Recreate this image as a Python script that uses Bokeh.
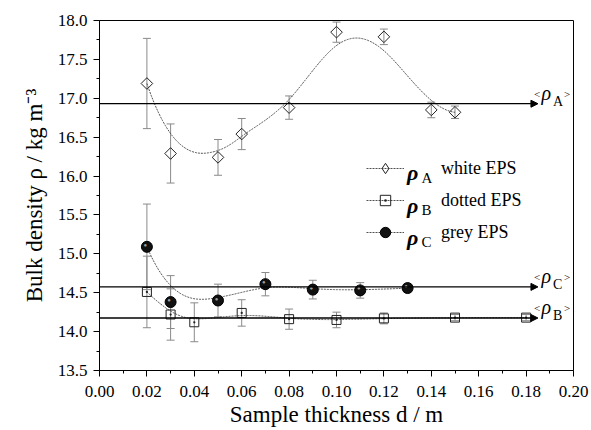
import numpy as np
from bokeh.plotting import figure
from bokeh.models import (ColumnDataSource, Whisker, TeeHead, Arrow, NormalHead, Label,
                          Legend, LegendItem, FixedTicker, NumeralTickFormatter, Range1d)
from bokeh.core.properties import value
from bokeh.embed import file_html
from bokeh.resources import INLINE

# ---------------- data ----------------
thick_A = [0.02, 0.03, 0.05, 0.06, 0.08, 0.10, 0.12, 0.14, 0.15]
rho_A = [17.19, 16.29, 16.24, 16.54, 16.88, 17.85, 17.79, 16.85, 16.82]
err_A = [0.58, 0.38, 0.23, 0.20, 0.15, 0.13, 0.10, 0.10, 0.08]

thick_B = [0.02, 0.03, 0.04, 0.06, 0.08, 0.10, 0.12, 0.15, 0.18]
rho_B = [14.51, 14.22, 14.12, 14.24, 14.16, 14.15, 14.17, 14.18, 14.18]
err_B = [0.46, 0.33, 0.25, 0.17, 0.13, 0.10, 0.07, 0.04, 0.04]

thick_C = [0.02, 0.03, 0.05, 0.07, 0.09, 0.11, 0.13]
rho_C = [15.09, 14.38, 14.40, 14.61, 14.54, 14.53, 14.56]
err_C = [0.55, 0.34, 0.21, 0.15, 0.12, 0.10, 0.05]

mean_names = ["A", "B", "C"]
mean_values = [16.93, 14.175, 14.575]
mean_end = 0.185

legend_texts = ["white EPS", "dotted EPS", "grey EPS"]
x_title = "Sample thickness d / m"
y_title = "Bulk density ρ / kg m⁻³"
x_ticks = [0.00, 0.02, 0.04, 0.06, 0.08, 0.10, 0.12, 0.14, 0.16, 0.18, 0.20]
x_minor = [0.01, 0.03, 0.05, 0.07, 0.09, 0.11, 0.13, 0.15, 0.17, 0.19]
y_ticks = [13.5, 14.0, 14.5, 15.0, 15.5, 16.0, 16.5, 17.0, 17.5, 18.0]
y_minor = [13.75, 14.25, 14.75, 15.25, 15.75, 16.25, 16.75, 17.25, 17.75]

# ---------------- helpers ----------------
def _basis(i, k, t, kn):
    if k == 0:
        return np.where((kn[i] <= t) & (t < kn[i + 1]), 1.0, 0.0)
    out = np.zeros_like(t)
    d1 = kn[i + k] - kn[i]
    d2 = kn[i + k + 1] - kn[i + 1]
    if d1 > 0:
        out += (t - kn[i]) / d1 * _basis(i, k - 1, t, kn)
    if d2 > 0:
        out += (kn[i + k + 1] - t) / d2 * _basis(i + 1, k - 1, t, kn)
    return out


def bspline(xs, ys, n=300, k=3):
    """Clamped cubic B-spline using the measured points as control points."""
    P = np.column_stack([xs, ys])
    m = len(P)
    kn = np.concatenate([np.zeros(k + 1), np.arange(1, m - k) / (m - k), np.ones(k + 1)])
    t = np.linspace(0, 1, n)
    t[-1] = 1 - 1e-12
    B = np.array([_basis(i, k, t, kn) for i in range(m)])
    c = B.T @ P
    return c[:, 0], c[:, 1]


FONT = "Liberation Serif"
FL, FT, FW, FH = 99, 20, 474, 350
X0, X1, Y0, Y1 = 0.0, 0.2, 13.5, 18.0


def dx(px):
    return X0 + (px - FL) / FW * (X1 - X0)


def dy(py):
    return Y1 - (py - FT) / FH * (Y1 - Y0)


def txt(px, py, s, size, style="normal"):
    return Label(x=dx(px), y=dy(py), text=s, text_font=FONT, text_font_size=size,
                 text_font_style=style, text_color="black", text_baseline="alphabetic")


# ---------------- figure ----------------
p = figure(width=591, height=430, x_range=Range1d(X0, X1), y_range=Range1d(Y0, Y1),
           output_backend="svg", toolbar_location=None,
           min_border_left=FL, min_border_right=591 - FL - FW,
           min_border_top=FT, min_border_bottom=430 - FT - FH)
p.grid.visible = False
p.outline_line_color = "black"
p.outline_line_width = 1
p.background_fill_color = "white"
p.border_fill_color = "white"

p.xaxis.ticker = FixedTicker(ticks=x_ticks, minor_ticks=x_minor)
p.yaxis.ticker = FixedTicker(ticks=y_ticks, minor_ticks=y_minor)
p.xaxis.formatter = NumeralTickFormatter(format="0.00")
p.yaxis.formatter = NumeralTickFormatter(format="0.0")
for ax in (p.xaxis[0], p.yaxis[0]):
    ax.axis_line_color = "black"
    ax.major_tick_line_color = "black"
    ax.minor_tick_line_color = "black"
    ax.major_tick_in = 0
    ax.major_tick_out = 6
    ax.minor_tick_in = 0
    ax.minor_tick_out = 3
    ax.major_label_text_font = FONT
    ax.major_label_text_font_size = "17px"
    ax.major_label_text_color = "black"
    ax.axis_label_text_font = FONT
    ax.axis_label_text_font_size = "23px"
    ax.axis_label_text_font_style = "normal"
    ax.axis_label_text_color = "black"
p.xaxis.major_label_standoff = 9
p.yaxis.major_label_standoff = 6
p.xaxis.axis_label = x_title
p.yaxis.axis_label = y_title
p.xaxis.axis_label_standoff = 2
p.yaxis.axis_label_standoff = 8

# ---------------- mean lines with arrows ----------------
mean_src = ColumnDataSource(dict(x0=[X0] * 3, x1=[mean_end] * 3, y=mean_values))
p.add_layout(Arrow(source=mean_src, x_start="x0", y_start="y", x_end="x1", y_end="y",
                   line_color="black", line_width=1.3,
                   end=NormalHead(size=7, fill_color="black", line_color="black")))

for name, mv in zip(mean_names, mean_values):
    p.add_layout(Label(x=mean_end, y=mv, x_offset=-4, y_offset=4, text="<",
                       text_font=FONT, text_font_size="11px", text_color="black"))
    p.add_layout(Label(x=mean_end, y=mv, x_offset=3.5, y_offset=0, text="ρ",
                       text_font=FONT, text_font_size="20px", text_font_style="italic",
                       text_color="black"))
    p.add_layout(Label(x=mean_end, y=mv, x_offset=15, y_offset=-5, text=name,
                       text_font=FONT, text_font_size="14px", text_color="black"))
    p.add_layout(Label(x=mean_end, y=mv, x_offset=26, y_offset=4, text=">",
                       text_font=FONT, text_font_size="11px", text_color="black"))

# ---------------- series ----------------
ERR_COL = "#8a8a8a"
CURVE_COL = "#505050"
lines, marks = [], []
series = [(thick_A, rho_A, err_A), (thick_B, rho_B, err_B), (thick_C, rho_C, err_C)]
for idx, (xs, ys, es) in enumerate(series):
    src = ColumnDataSource(dict(x=xs, y=ys,
                                lo=[a - b for a, b in zip(ys, es)],
                                hi=[a + b for a, b in zip(ys, es)]))
    w = Whisker(source=src, base="x", lower="lo", upper="hi", level="underlay",
                line_color=ERR_COL, line_width=1,
                upper_head=TeeHead(size=8, line_color=ERR_COL, line_width=1),
                lower_head=TeeHead(size=8, line_color=ERR_COL, line_width=1))
    p.add_layout(w)
    cx, cy = bspline(xs, ys)
    lines.append(p.line(cx, cy, line_color=CURVE_COL, line_width=1, line_dash="2 1"))
    if idx == 0:
        p.scatter("x", "y", source=src, marker="square", angle=np.pi / 4, size=8.2,
                  line_color="#222222", line_width=1, fill_alpha=0)
        # legend sample: legend markers are drawn unrotated, so use a hidden diamond renderer
        marks.append(p.scatter("x", "y", source=src, marker="diamond", visible=False,
                               line_color="#222222", line_width=1, fill_alpha=0))
    elif idx == 1:
        marks.append(p.scatter("x", "y", source=src, marker="square_dot", size=9,
                               line_color="#222222", line_width=1, fill_alpha=0))
    else:
        marks.append(p.scatter("x", "y", source=src, marker="circle", size=11,
                               line_color="black", fill_color="#111111"))
        p.text("x", "y", source=src, text=value("●"), text_font_size="6px",
               text_color="#b0b0b0", text_alpha=0.9, text_align="center",
               text_baseline="middle", x_offset=-1.5, y_offset=-2)

# ---------------- legend ----------------
items = [LegendItem(label=t, renderers=[ln, mk])
         for t, ln, mk in zip(legend_texts, lines, marks)]
legend = Legend(items=items, location=(267, 125), glyph_width=38, glyph_height=26,
                label_height=26, spacing=6, padding=0, margin=0, label_standoff=37,
                border_line_alpha=0, background_fill_alpha=0,
                label_text_font=FONT, label_text_font_size="18px", label_text_color="black")
p.add_layout(legend)

for i, name in enumerate(mean_names):
    base = 172.3 + 32.4 * i
    p.add_layout(txt(406.5, base, "ρ", "22px", style="bold italic"))
    p.add_layout(txt(421, base + 4.7, name, "15px"))

open("out.html", "w").write(file_html(p, INLINE))
